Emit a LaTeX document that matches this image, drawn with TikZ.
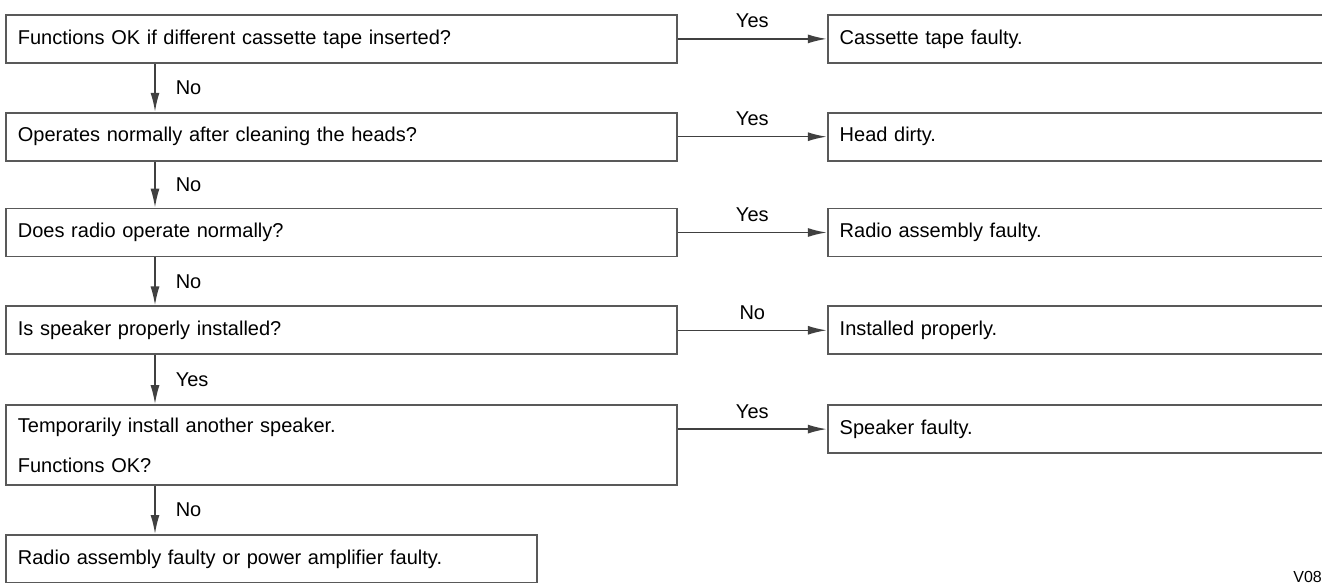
\documentclass[tikz,border=0pt]{standalone}
\usepackage{fontspec}
\setmainfont{Liberation Sans}
\usepackage{tikz}
\usetikzlibrary{positioning,calc,arrows.meta}

\begin{document}
\begin{tikzpicture}[x=1pt,y=1pt,
    question/.style={draw=black!65, line width=1.8pt, text width=647pt, inner xsep=12pt, inner ysep=0pt,
        minimum height=48pt, align=left, font=\fontsize{20}{24}\selectfont},
    answer/.style={question, text width=500pt},
    flow/.style={draw=black!75, line width=1.6pt, -{Latex[length=19pt,width=9pt]}},
    tag/.style={font=\fontsize{20}{24}\selectfont, inner sep=0pt}]
  \useasboundingbox (0,0) rectangle (1322,-583);
  \clip (0,0) rectangle (1322,-583);

  % questions, left column
  \node[question, anchor=north west] (q1) at (5,-14) {Functions OK if different cassette tape inserted?};
  \node[question, below=48pt of q1] (q2) {Operates normally after cleaning the heads?};
  \node[question, below=46pt of q2] (q3) {Does radio operate normally?};
  \node[question, below=48pt of q3] (q4) {Is speaker properly installed?};
  \node[question, below=49pt of q4, minimum height=80pt, font=\fontsize{20}{40}\selectfont] (q5) {Temporarily install another speaker.\\Functions OK?};
  \node[question, text width=507pt, below=48pt of q5.south west, anchor=north west] (q6) {Radio assembly faulty or power amplifier faulty.};

  % results, right column
  \node[answer, right=149pt of q1] (r1) {Cassette tape faulty.};
  \node[answer, right=149pt of q2] (r2) {Head dirty.};
  \node[answer, right=149pt of q3] (r3) {Radio assembly faulty.};
  \node[answer, right=149pt of q4] (r4) {Installed properly.};
  \node[answer, right=149pt of q5.north east, anchor=north west] (r5) {Speaker faulty.};

  % branches
  \draw[flow] (q1) -- node[tag, above=10pt] {Yes} (r1);
  \draw[flow] (q2) -- node[tag, above=10pt] {Yes} (r2);
  \draw[flow] (q3) -- node[tag, above=10pt] {Yes} (r3);
  \draw[flow] (q4) -- node[tag, above=10pt] {No} (r4);
  \draw[flow] (r5.west -| q5.east) -- node[tag, above=10pt] {Yes} (r5.west);

  \draw[flow] ([xshift=150pt]q1.south west) -- node[tag, right=20pt] {No} ([xshift=150pt]q2.north west);
  \draw[flow] ([xshift=150pt]q2.south west) -- node[tag, right=20pt] {No} ([xshift=150pt]q3.north west);
  \draw[flow] ([xshift=150pt]q3.south west) -- node[tag, right=20pt] {No} ([xshift=150pt]q4.north west);
  \draw[flow] ([xshift=150pt]q4.south west) -- node[tag, right=20pt] {Yes} ([xshift=150pt]q5.north west);
  \draw[flow] ([xshift=150pt]q5.south west) -- node[tag, right=20pt] {No} ([xshift=150pt]q6.north west);

  \node[font=\fontsize{16}{18}\selectfont, inner sep=0pt, anchor=base east] (code) at (1322,-582) {V08};
\end{tikzpicture}
\end{document}
